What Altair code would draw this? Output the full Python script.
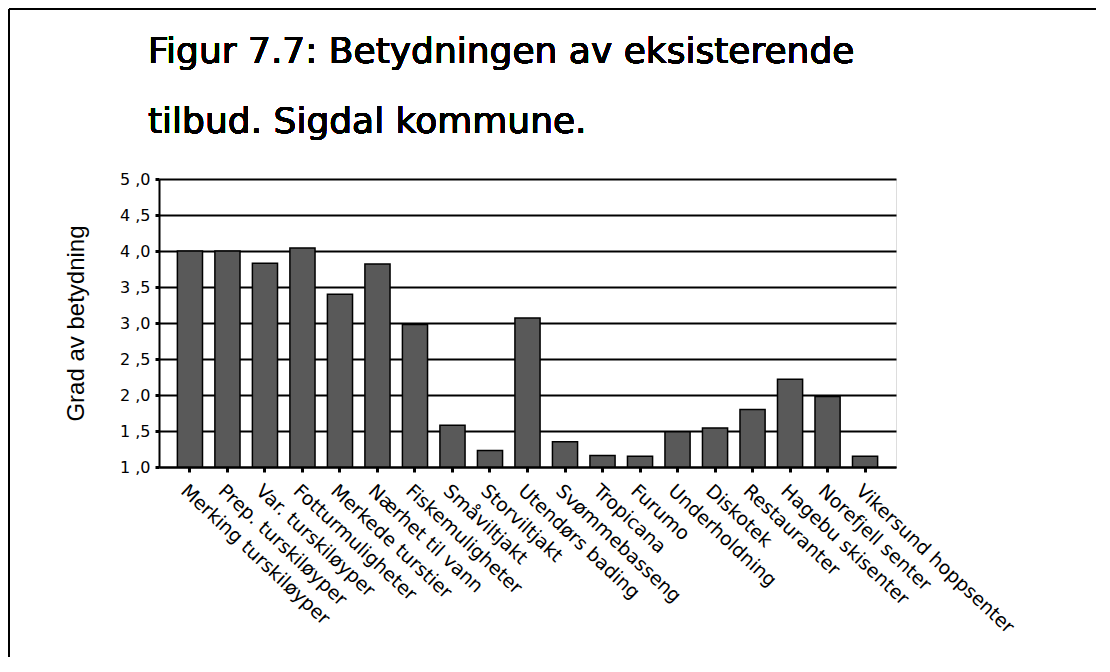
import altair as alt
import pandas as pd

categories = [
    "Merking turskiløyper", "Prep. turskiløyper", "Var. turskiløyper",
    "Fotturmuligheter", "Merkede turstier", "Nærhet til vann",
    "Fiskemuligheter", "Småviltjakt", "Storviltjakt", "Utendørs bading",
    "Svømmebasseng", "Tropicana", "Furumo", "Underholdning", "Diskotek",
    "Restauranter", "Hagebu skisenter", "Norefjell senter",
    "Vikersund hoppsenter",
]
values = [4.00, 4.00, 3.83, 4.04, 3.40, 3.82, 2.98, 1.58, 1.23, 3.07,
          1.35, 1.16, 1.15, 1.49, 1.54, 1.80, 2.22, 1.98, 1.15]
y_ticks = [1.0, 1.5, 2.0, 2.5, 3.0, 3.5, 4.0, 4.5, 5.0]
title_lines = ["Figur 7.7: Betydningen av eksisterende", "tilbud. Sigdal kommune."]
y_title = "Grad av betydning"

df = pd.DataFrame({"tilbud": categories, "verdi": values})

FONT = "Liberation Sans"
WIDE = "DejaVu Sans"

bars = alt.Chart(df).mark_bar(
    color="#595959", stroke="black", strokeWidth=1.5
).encode(
    x=alt.X("tilbud:N", sort=categories, title=None,
            scale=alt.Scale(paddingInner=0.33, paddingOuter=0.49),
            axis=alt.Axis(labelAngle=43, labelFontSize=19, labelFont=WIDE,
                          labelColor="black", labelPadding=9,
                          tickSize=5, tickWidth=3, tickColor="black",
                          domainColor="black", domainWidth=2,
                          labelOverlap=False, labelLimit=400)),
    y=alt.Y("verdi:Q", title=y_title,
            scale=alt.Scale(domain=[1, 5], zero=False, nice=False),
            axis=alt.Axis(values=y_ticks, grid=True, gridColor="black",
                          gridWidth=2, gridOpacity=1,
                          labelExpr="replace(format(datum.value, '.1f'), '.', ' ,')",
                          labelFontSize=16, labelFont=WIDE, labelColor="black",
                          labelPadding=5, tickSize=4, tickWidth=3,
                          tickColor="black", domainColor="black",
                          domainWidth=2, titleFont=FONT, titleFontSize=24,
                          titleFontWeight="normal", titleColor="black",
                          titlePadding=31)),
    y2=alt.datum(1),
)

title = alt.Chart(df).mark_text(
    align="left", baseline="alphabetic", font=WIDE, fontSize=36,
    lineHeight=70, color="black"
).encode(
    x=alt.value(-11), y=alt.value(-116), text=alt.value(title_lines)
)

frame_top = alt.Chart(df).mark_rule(color="black", strokeWidth=2).encode(
    x=alt.value(-150), x2=alt.value(960), y=alt.value(-170)
)
frame_left = alt.Chart(df).mark_rule(color="black", strokeWidth=2).encode(
    x=alt.value(-150), y=alt.value(-170), y2=alt.value(500)
)

chart = alt.layer(frame_top, frame_left, title, bars).properties(
    width=737, height=288,
    autosize=alt.AutoSizeParams(type="none"),
    padding={"left": 151, "top": 171, "right": 200, "bottom": 190},
).configure_view(stroke=None).configure(background="white")

chart.save("out.html", embed_options={"renderer": "svg", "actions": False})
